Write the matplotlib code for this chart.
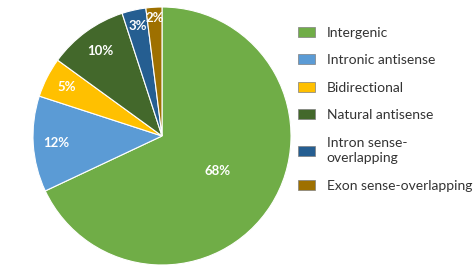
import matplotlib
matplotlib.use("Agg")
import matplotlib.pyplot as plt
import numpy as np

categories = ["Intergenic", "Intronic antisense", "Bidirectional", "Natural antisense",
              "Intron sense-\noverlapping", "Exon sense-overlapping"]
shares = [68, 12, 5, 10, 3, 2]
colors = ["#70AD47", "#5B9BD5", "#FFC000", "#43682B", "#255E91", "#9E7000"]
label_radius = [0.51, 0.82, 0.83, 0.81, 0.87, 0.92]

plt.rcParams["font.family"] = ["Lato", "DejaVu Sans"]

fig = plt.figure(figsize=(4.75, 2.67), dpi=100)
ax = fig.add_axes([33 / 475, 2 / 267, 258 / 475, 258 / 267])

wedges, _ = ax.pie(shares, colors=colors, startangle=90, counterclock=False,
                   radius=1.0, wedgeprops=dict(edgecolor="white", linewidth=0.8))

# percentage labels, white bold like the original
for w, v, r in zip(wedges, shares, label_radius):
    mid = np.deg2rad((w.theta1 + w.theta2) / 2)
    ax.text(r * np.cos(mid), r * np.sin(mid), f"{v}%", ha="center", va="center",
            color="white", fontsize=9.5, fontweight="bold")

ax.set_xlim(-1, 1)
ax.set_ylim(-1, 1)
ax.set_aspect("equal")
ax.axis("off")

leg = fig.legend(wedges, categories, loc="upper left", bbox_to_anchor=(292 / 475, 1 - 21 / 267),
                 frameon=False, fontsize=10, labelspacing=1.12, handlelength=1.25,
                 handleheight=0.75, handletextpad=0.85, borderaxespad=0)
for t in leg.get_texts():
    t.set_color("#333333")
    t.set_linespacing(1.35)
for h in leg.legend_handles:
    h.set_edgecolor("#7f7f7f")
    h.set_linewidth(0.5)

fig.savefig("out.png", dpi=100)
